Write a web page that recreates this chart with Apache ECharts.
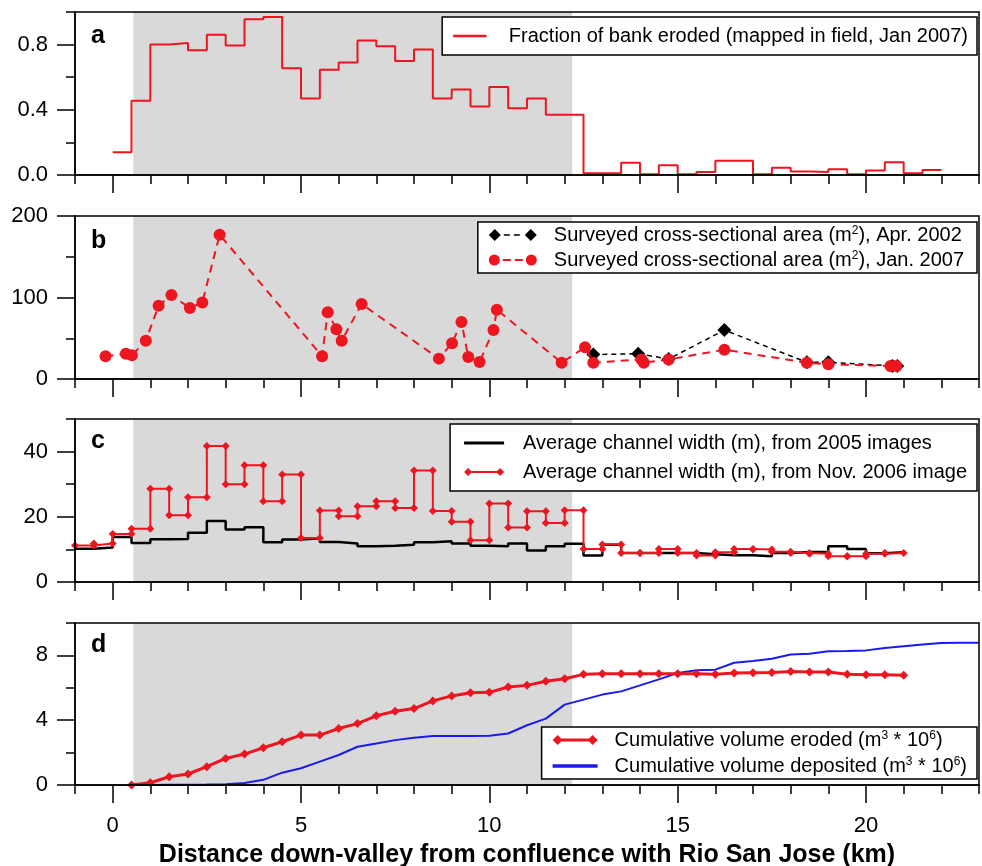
<!DOCTYPE html>
<html>
<head>
<meta charset="utf-8">
<script src="https://cdn.jsdelivr.net/npm/echarts@6/dist/echarts.min.js"></script>
<style>
html,body{margin:0;padding:0;background:#fff;}
#chart{width:982px;height:866px;}
</style>
</head>
<body>
<div id="chart"></div>
<script>
// ---------------- DATA ----------------
// Panel a: fraction of bank eroded, half-km bins (edges) and values
const aEdges = [0,0.5,1,1.5,2,2.5,3,3.5,4,4.5,5,5.5,6,6.5,7,7.5,8,8.5,9,9.5,10,10.5,11,11.5,12,12.5,13,13.5,14,14.5,15,15.5,16,16.5,17,17.5,18,18.5,19,19.5,20,20.5,21,21.5,22];
const aFraction = [0.14,0.455,0.80,0.81,0.765,0.86,0.795,0.955,0.97,0.655,0.47,0.645,0.69,0.825,0.79,0.70,0.77,0.47,0.525,0.42,0.54,0.41,0.47,0.37,0.37,0.01,0.01,0.075,0.005,0.06,0.005,0.018,0.088,0.088,0.005,0.045,0.022,0.018,0.035,0.004,0.027,0.078,0.01,0.03];

// Panel b: surveyed cross-sectional area
const bKm2002 = [12.76,13.95,14.76,16.24,18.43,19.0,20.7,20.83];
const bArea2002 = [30,31,24.5,60,20.5,20.5,16,16];
const bKm2007 = [-0.19,0.35,0.51,0.88,1.22,1.56,2.05,2.38,2.84,5.56,5.71,5.94,6.08,6.61,8.66,9.01,9.26,9.44,9.74,10.11,10.2,11.92,12.54,12.76,14.04,14.1,14.76,16.24,18.43,19.0,20.65,20.81];
const bArea2007 = [28,31,29,47,90,103,87,94,177,28,82,61,47,92,25,44,70,27,21,60,85,20,39,20,24,20,24,36,20,18,16,16];

// Panel c: average channel width, half-km bins
const cEdges = [-1,-0.5,0,0.5,1,1.5,2,2.5,3,3.5,4,4.5,5,5.5,6,6.5,7,7.5,8,8.5,9,9.5,10,10.5,11,11.5,12,12.5,13,13.5,14,14.5,15,15.5,16,16.5,17,17.5,18,18.5,19,19.5,20,20.5,21];
const cWidth2005 = [10.2,10.6,13.8,12.0,13.1,13.2,15.1,18.7,16.1,16.8,12.2,13.0,13.4,12.3,11.8,11.0,11.1,11.4,12.2,12.5,11.8,11.1,11.0,11.8,9.7,11.0,11.7,8.1,11.4,8.9,8.9,8.9,8.9,8.5,8.2,8.2,7.9,8.9,9.2,9.2,11.0,10.1,8.8,9.1];
const cWidth2006 = [11.2,11.8,14.7,16.3,28.6,20.5,26,41.7,30,35.8,24.8,33,13.5,21.9,20.2,23.2,24.8,22.7,34.2,21.8,18.5,12.8,24.1,16.7,21.7,18.1,22,10.1,11.5,8.9,8.9,10.1,8.9,8.1,9.1,10.1,10.0,9.3,8.9,8.7,7.9,7.9,8.7,8.9];

// Panel d: cumulative volumes (m3 * 10^6)
const dKmEroded = [0.5,1,1.5,2,2.5,3,3.5,4,4.5,5,5.5,6,6.5,7,7.5,8,8.5,9,9.5,10,10.5,11,11.5,12,12.5,13,13.5,14,14.5,15,15.5,16,16.5,17,17.5,18,18.5,19,19.5,20,20.5,21];
const dEroded = [0,0.14,0.51,0.68,1.13,1.64,1.91,2.30,2.67,3.08,3.08,3.49,3.79,4.27,4.55,4.72,5.19,5.50,5.70,5.72,6.05,6.15,6.40,6.56,6.83,6.87,6.87,6.87,6.87,6.87,6.87,6.83,6.91,6.93,6.95,7.00,6.97,6.97,6.83,6.81,6.81,6.77];
const dKmDeposited = [0.5,1,1.5,2,2.5,3,3.5,4,4.5,5,5.5,6,6.5,7,7.5,8,8.5,9,9.5,10,10.5,11,11.5,12,12.5,13,13.5,14,14.5,15,15.5,16,16.5,17,17.5,18,18.5,19,19.5,20,20.5,21,21.5,22,22.5,23];
const dDeposited = [0,0,0.01,0.02,0.03,0.05,0.12,0.32,0.76,1.03,1.44,1.85,2.36,2.56,2.77,2.91,3.02,3.03,3.03,3.04,3.18,3.69,4.10,4.96,5.27,5.58,5.78,6.15,6.52,6.91,7.08,7.12,7.55,7.65,7.79,8.06,8.10,8.25,8.27,8.31,8.45,8.57,8.68,8.76,8.78,8.78];

// Shaded reach (km)
const shadeFrom = 0.55, shadeTo = 12.2;

// Axis ticks
const xMajorTicks = [0,5,10,15,20];
const yMaxes = [1, 200, 50, 10];
const yMajorTicks = [[0,0.4,0.8],[0,100,200],[0,20,40],[0,4,8]];
const yMinorSteps = [0.2, 50, 10, 2];
const yLabelDecimals = [1,0,0,0];
const panelLetters = ['a','b','c','d'];

const names = {
  a: 'Fraction of bank eroded (mapped in field, Jan 2007)',
  b1: 'Surveyed cross-sectional area (m2), Apr. 2002',
  b2: 'Surveyed cross-sectional area (m2), Jan. 2007',
  c1: 'Average channel width (m), from 2005 images',
  c2: 'Average channel width (m), from Nov. 2006 image',
  d1: 'Cumulative volume eroded (m3 * 106)',
  d2: 'Cumulative volume deposited (m3 * 106)'
};

// ---------------- HELPERS ----------------
function zip(xs, ys){ return ys.map((y,i)=>[xs[i], y]); }
function stepPoints(edges, vals){ const p = vals.map((v,i)=>[edges[i], v]); p.push([edges[vals.length], vals[vals.length-1]]); return p; }
function pairPoints(edges, vals){ const p=[]; vals.forEach((v,i)=>{ p.push([edges[i],v]); p.push([edges[i+1],v]); }); return p; }

const FONT = '"Liberation Sans", Arial, Helvetica, sans-serif';
const RED = '#ec1520';
const BLUE = '#1a1af0';
const GREY = '#d9d9d9';

const grids = [
  {left:75, right:3, top:12, height:163},
  {left:75, right:3, top:216, height:163},
  {left:75, right:3, top:419, height:163},
  {left:75, right:3, top:623, height:162}
].map(g => Object.assign(g, {show:true, z:10, backgroundColor:'transparent', borderColor:'#000', borderWidth:1.5,
  outerBoundsMode:'none', containLabel:false}));

const xAxes = [], yAxes = [];
for (let g=0; g<4; g++){
  xAxes.push({
    type:'value', gridIndex:g, min:-1, max:23, position:'bottom', z:6,
    axisLine:{show:true, onZero:false, lineStyle:{color:'#000', width:1.5}},
    axisTick:{show:true, customValues:xMajorTicks, length:18, lineStyle:{color:'#000', width:1.5}},
    axisLabel:{show:g===3, customValues:xMajorTicks, margin:30, fontSize:22, color:'#000', fontFamily:FONT},
    splitLine:{show:false},
    name: g===3 ? 'Distance down-valley from confluence with Rio San Jose (km)' : '',
    nameLocation:'middle', nameGap:58,
    nameTextStyle:{fontSize:25, fontWeight:'bold', color:'#000', fontFamily:FONT}
  });
  xAxes.push({
    type:'value', gridIndex:g, min:-1, max:23, interval:1, position:'bottom', z:6,
    axisLine:{show:false, onZero:false},
    axisTick:{show:true, length:9, lineStyle:{color:'#000', width:1.5}},
    axisLabel:{show:false}, splitLine:{show:false}
  });
  const dec = yLabelDecimals[g];
  yAxes.push({
    type:'value', gridIndex:g, min:0, max:yMaxes[g], position:'left', z:6,
    axisLine:{show:true, onZero:false, lineStyle:{color:'#000', width:1.5}},
    axisTick:{show:true, customValues:yMajorTicks[g], length:18, lineStyle:{color:'#000', width:1.5}},
    axisLabel:{show:true, customValues:yMajorTicks[g], margin:27, fontSize:22, color:'#000', fontFamily:FONT,
      formatter: v => Number(v).toFixed(dec)},
    splitLine:{show:false}
  });
  yAxes.push({
    type:'value', gridIndex:g, min:0, max:yMaxes[g], interval:yMinorSteps[g], position:'left', offset:0, z:6,
    axisLine:{show:false, onZero:false},
    axisTick:{show:true, length:9, lineStyle:{color:'#000', width:1.5}},
    axisLabel:{show:false}, splitLine:{show:false}
  });
}

function shade(){
  return {silent:true, itemStyle:{color:GREY}, data:[[{xAxis:shadeFrom},{xAxis:shadeTo}]]};
}

const series = [
  {name:names.a, type:'line', xAxisIndex:0, yAxisIndex:0, step:'end', data:stepPoints(aEdges, aFraction),
   symbol:'none', lineStyle:{color:RED, width:2}, itemStyle:{color:RED}, markArea:shade(), z:3},
  {name:names.b1, type:'line', xAxisIndex:2, yAxisIndex:2, data:zip(bKm2002, bArea2002),
   symbol:'diamond', symbolSize:14, lineStyle:{color:'#000', width:1.5, type:[5,4]}, itemStyle:{color:'#000'}, markArea:shade(), z:3},
  {name:names.b2, type:'line', xAxisIndex:2, yAxisIndex:2, data:zip(bKm2007, bArea2007),
   symbol:'circle', symbolSize:12, lineStyle:{color:RED, width:2, type:[8,6]}, itemStyle:{color:RED}, z:4},
  {name:names.c1, type:'line', xAxisIndex:4, yAxisIndex:4, step:'end', data:stepPoints(cEdges, cWidth2005),
   symbol:'none', lineStyle:{color:'#000', width:2.5}, itemStyle:{color:'#000'}, markArea:shade(), z:3},
  {name:names.c2, type:'line', xAxisIndex:4, yAxisIndex:4, data:pairPoints(cEdges, cWidth2006),
   symbol:'diamond', symbolSize:8, lineStyle:{color:RED, width:2}, itemStyle:{color:RED}, z:4},
  {name:names.d2, type:'line', xAxisIndex:6, yAxisIndex:6, data:zip(dKmDeposited, dDeposited),
   symbol:'none', lineStyle:{color:BLUE, width:2}, itemStyle:{color:BLUE}, markArea:shade(), z:3},
  {name:names.d1, type:'line', xAxisIndex:6, yAxisIndex:6, data:zip(dKmEroded, dEroded),
   symbol:'diamond', symbolSize:9, lineStyle:{color:RED, width:3}, itemStyle:{color:RED}, z:4}
];

const richStyles = {
  g:{width:14},
  n:{fontSize:20, fontFamily:FONT, color:'#000'},
  s:{fontSize:12, fontFamily:FONT, color:'#000', verticalAlign:'top', lineHeight:12}
};
function richLabel(name, gap){
  const sup = {
    [names.b1]: '{n|Surveyed cross-sectional area (m}{s|2}{n|), Apr. 2002}',
    [names.b2]: '{n|Surveyed cross-sectional area (m}{s|2}{n|), Jan. 2007}',
    [names.d1]: '{n|Cumulative volume eroded (m}{s|3}{n| * 10}{s|6}{n|)}',
    [names.d2]: '{n|Cumulative volume deposited (m}{s|3}{n| * 10}{s|6}{n|)}'
  };
  return '{' + gap + '| }' + (sup[name] || ('{n|' + name + '}'));
}
function legendBase(extra){
  return Object.assign({
    orient:'vertical', right:5, selectedMode:false, align:'left',
    borderColor:'#000', borderWidth:1.5, backgroundColor:'#fff', borderRadius:0,
    textStyle:{fontSize:20, fontFamily:FONT, color:'#000', rich:{}},
    inactiveColor:'#000'
  }, extra);
}
const ICON_LINE = 'path://M0,0 L40,0 L40,3 L0,3 Z';
const ICON_B1 = 'path://M0,6.5 L6,0.5 L12,6.5 L6,12.5 Z M15,5.7 L21,5.7 L21,7.3 L15,7.3 Z M25,5.7 L31,5.7 L31,7.3 L25,7.3 Z M36,6.5 L42,0.5 L48,6.5 L42,12.5 Z';
const ICON_B2 = 'path://M0,6.5 A5.5,5.5 0 1,1 11,6.5 A5.5,5.5 0 1,1 0,6.5 Z M14,5.5 L22,5.5 L22,7.5 L14,7.5 Z M26,5.5 L34,5.5 L34,7.5 L26,7.5 Z M37,6.5 A5.5,5.5 0 1,1 48,6.5 A5.5,5.5 0 1,1 37,6.5 Z';
const ICON_C2 = 'path://M0,4 L4,0 L8,4 L4,8 Z M32,4 L36,0 L40,4 L36,8 Z M4,3 L36,3 L36,5 L4,5 Z';
const ICON_D1 = 'path://M0,5 L5,0 L10,5 L5,10 Z M35,5 L40,0 L45,5 L40,10 Z M5,3.5 L40,3.5 L40,6.5 L5,6.5 Z';

function gapRich(w){ return Object.assign({}, richStyles, {g:{width:w}}); }

const legends = [
  legendBase({top:17, padding:[9,9,9,11], itemGap:5,
    data:[{name:names.a, icon:ICON_LINE}], itemWidth:38, itemHeight:2.5,
    formatter: n => richLabel(n,'g'),
    textStyle:{fontSize:20, fontFamily:FONT, color:'#000', rich:gapRich(15)}}),
  legendBase({top:222, padding:[3,13,3,11], itemGap:5,
    data:[{name:names.b1, icon:ICON_B1},{name:names.b2, icon:ICON_B2}], itemWidth:48, itemHeight:12,
    formatter: n => richLabel(n,'g'),
    textStyle:{fontSize:20, fontFamily:FONT, color:'#000', rich:gapRich(12)}}),
  legendBase({top:424, padding:[9,10,9,14], itemGap:9,
    data:[{name:names.c1, icon:ICON_LINE},{name:names.c2, icon:ICON_C2}], itemWidth:40, itemHeight:8,
    formatter: n => richLabel(n,'g'),
    textStyle:{fontSize:20, fontFamily:FONT, color:'#000', rich:gapRich(14)}}),
  legendBase({top:727, padding:[3,10,3,11], itemGap:6,
    data:[{name:names.d1, icon:ICON_D1},{name:names.d2, icon:ICON_LINE}], itemWidth:45, itemHeight:10,
    formatter: n => richLabel(n,'g'),
    textStyle:{fontSize:20, fontFamily:FONT, color:'#000', rich:gapRich(12)}})
];

const letterY = [36, 241, 441, 645];
const graphics = panelLetters.map((t,i)=>({
  type:'text', x:91, y:letterY[i], z:20,
  style:{text:t, font:'bold 25px ' + FONT, fill:'#000', verticalAlign:'middle', align:'left'}
}));

const chart = echarts.init(document.getElementById('chart'), null, {renderer:'canvas'});
chart.setOption({
  animation:false,
  backgroundColor:'#fff',
  grid:grids,
  xAxis:xAxes,
  yAxis:yAxes,
  legend:legends,
  series:series,
  graphic:graphics
});
</script>
</body>
</html>
